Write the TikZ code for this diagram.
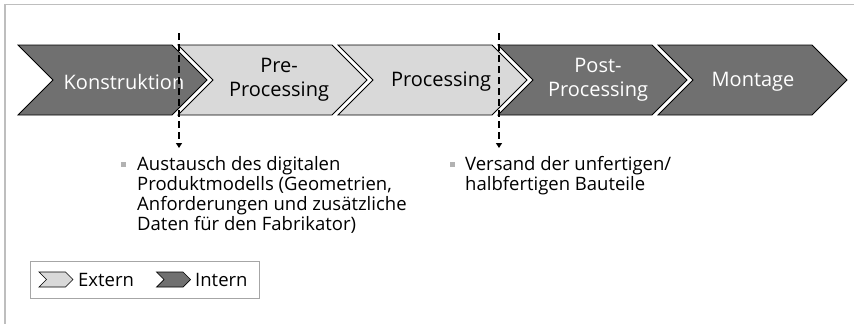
\documentclass[tikz,border=0pt]{standalone}
\usepackage{fontspec}
\setmainfont{Open Sans}
\usetikzlibrary{shapes.symbols,arrows.meta}
\definecolor{lgray}{RGB}{217,217,217}
\definecolor{dgray}{RGB}{112,112,112}
\definecolor{fgray}{RGB}{190,190,190}
\tikzset{
  stage/.style={signal,signal to=east,signal from=west,draw=black,line width=0.8pt,
    minimum width=189pt,minimum height=70pt,inner sep=0pt},
  extstage/.style={stage,fill=lgray},
  intstage/.style={stage,fill=dgray},
  stagelbl/.style={inner sep=0pt,align=center,font=\fontsize{20}{24}\selectfont},
  minichev/.style={signal,signal to=east,signal from=west,draw=black,line width=0.7pt,
    minimum width=34pt,minimum height=15pt,inner sep=0pt},
  cut/.style={dash pattern=on 7pt off 4pt,line width=2pt,-{Triangle[width=6pt,length=5pt]}},
  note/.style={anchor=north west,inner sep=0pt,align=left,font=\fontsize{18.5}{20}\selectfont},
  bul/.style={rectangle,fill=black!30,minimum size=5pt,inner sep=0pt},
  legtxt/.style={anchor=west,inner sep=0pt,font=\fontsize{18.5}{20}\selectfont},
}
\begin{document}
\begin{tikzpicture}[x=1pt,y=-1pt]
\useasboundingbox (0,0) rectangle (854,324);
\draw[fgray,line width=1.5pt] (854,4.5) -- (5,4.5) -- (5,324);
% process chain
\node[intstage] (kon) at (112.5,80) {};
\node[extstage] (pre) at (272.5,80) {};
\node[extstage] (pro) at (432.5,80) {};
\node[intstage] (post) at (592.5,80) {};
\node[intstage] (mon) at (752.5,80) {};
\node[stagelbl,text=white] (lkon) at (124,82) {Konstruktion};
\node[stagelbl] (lpre) at (279,80) {Pre-\\Processing};
\node[stagelbl] (lpro) at (441,82) {Processing};
\node[stagelbl,text=white] (lpost) at (598,80) {Post-\\Processing};
\node[stagelbl,text=white] (lmon) at (753,82) {Montage};
% handover points
\coordinate (c1) at (179,33);
\coordinate (c1e) at (179,148);
\coordinate (c2) at (499,33);
\coordinate (c2e) at (499,148);
\draw[cut] (c1) -- (c1e);
\draw[cut] (c2) -- (c2e);
\node[bul] (q1) at (123,164.5) {};
\node[note] (t1) at (137,156) {Austausch des digitalen\\Produktmodells (Geometrien,\\Anforderungen und zusätzliche\\Daten für den Fabrikator)};
\node[bul] (q2) at (452,164.5) {};
\node[note] (t2) at (465,156) {Versand der unfertigen/\\halbfertigen Bauteile};
% legend
\node[draw=black!35,line width=1pt,minimum width=228.5pt,minimum height=37pt,inner sep=0pt] (leg) at (144.75,279.5) {};
\node[minichev,fill=lgray] (lext) at (56,279.5) {};
\node[legtxt] (text) at (78,279.5) {Extern};
\node[minichev,fill=dgray] (lint) at (173.5,279.5) {};
\node[legtxt] (tint) at (195,279.5) {Intern};
\end{tikzpicture}
\end{document}
